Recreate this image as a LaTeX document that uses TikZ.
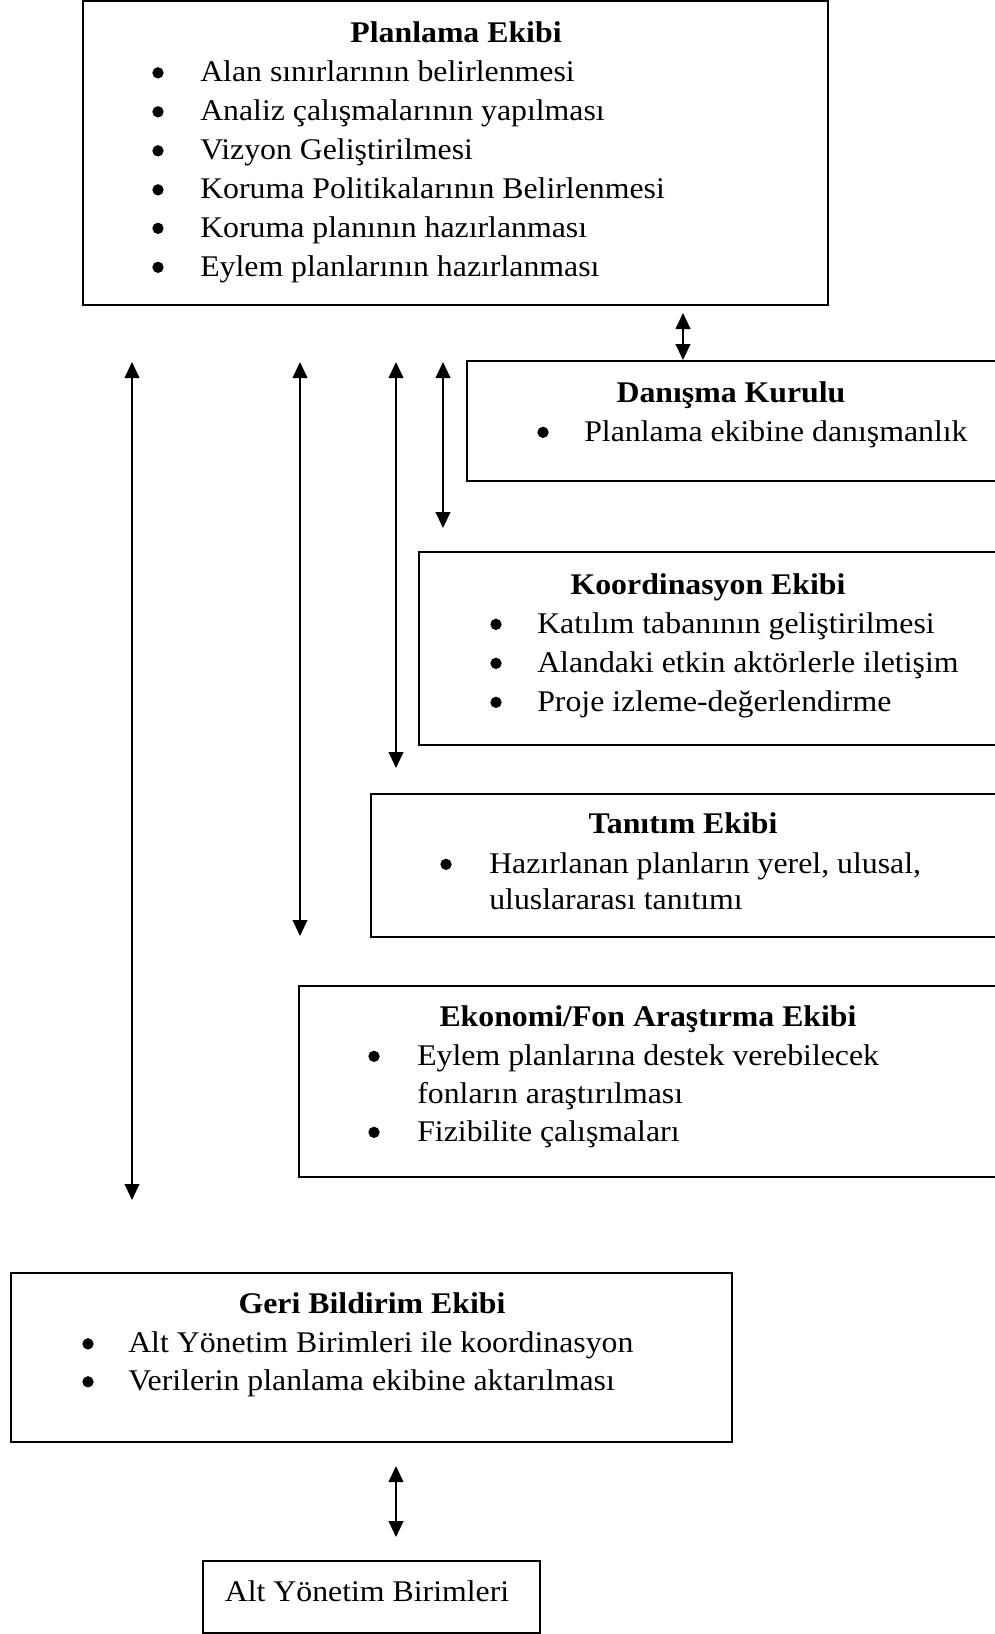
\documentclass[tikz,border=0pt]{standalone}
\usepackage{fontspec}
\setmainfont{Liberation Serif}[FakeStretch=1.06]
\usetikzlibrary{arrows.meta,fit}
\begin{document}
\begin{tikzpicture}[x=0.75pt,y=-0.75pt,
  every node/.style={font=\fontsize{22.5pt}{27pt}\selectfont},
  box/.style={draw,line width=1.5pt,inner sep=0pt},
  head/.style={anchor=base,font=\fontsize{22.5pt}{27pt}\selectfont\bfseries,inner sep=0pt},
  item/.style={anchor=base west,inner sep=0pt},
  dot/.style={circle,fill,inner sep=0pt,minimum size=8.5pt,yshift=6.5pt},
  link/.style={line width=1.5pt,{Triangle[width=11pt,length=12pt]}-{Triangle[width=11pt,length=12pt]}}]
\useasboundingbox (0,0) rectangle (995,1634);
\clip (0,0) rectangle (995,1634);

% team boxes (the right-hand ones run off the page edge)
\node[box,fit={(83,1) (828,305)}] (plan) {};
\node[box,fit={(467,361) (1010,481)}] (danis) {};
\node[box,fit={(419,552) (1010,745)}] (koord) {};
\node[box,fit={(371,794) (1010,937)}] (tanit) {};
\node[box,fit={(299,986) (1010,1177)}] (ekon) {};
\node[box,fit={(11,1273) (732,1442)}] (geri) {};
\node[box,fit={(203,1561) (540,1633)}] (alt) {};

% Planlama Ekibi
\node[head] (planH) at (456,43) {Planlama Ekibi};
\foreach \y/\t [count=\i] in {81.5/Alan sınırlarının belirlenmesi,
    120.5/Analiz çalışmalarının yapılması,
    159.5/Vizyon Geliştirilmesi,
    198.5/Koruma Politikalarının Belirlenmesi,
    237/Koruma planının hazırlanması,
    276/Eylem planlarının hazırlanması}{
  \node[dot] (planB\i) at (158,\y) {};
  \node[item] (planI\i) at (200,\y) {\t};
}

% Danışma Kurulu
\node[head] (danisH) at (731,402) {Danışma Kurulu};
\node[dot] (danisB1) at (543,441) {};
\node[item] (danisI1) at (584,441) {Planlama ekibine danışmanlık};

% Koordinasyon Ekibi
\node[head] (koordH) at (708,594) {Koordinasyon Ekibi};
\foreach \y/\t [count=\i] in {633/Katılım tabanının geliştirilmesi,
    672/Alandaki etkin aktörlerle iletişim,
    711/Proje izleme-değerlendirme}{
  \node[dot] (koordB\i) at (496,\y) {};
  \node[item] (koordI\i) at (537,\y) {\t};
}

% Tanıtım Ekibi
\node[head] (tanitH) at (683,833) {Tanıtım Ekibi};
\node[dot] (tanitB1) at (446,873) {};
\node[item] (tanitI1) at (489,873) {Hazırlanan planların yerel, ulusal,};
\node[item] (tanitI1b) at (489,909) {uluslararası tanıtımı};

% Ekonomi/Fon Araştırma Ekibi
\node[head] (ekonH) at (648,1026) {Ekonomi/Fon Araştırma Ekibi};
\node[dot] (ekonB1) at (374,1065) {};
\node[item] (ekonI1) at (417,1065) {Eylem planlarına destek verebilecek};
\node[item] (ekonI1b) at (417,1103) {fonların araştırılması};
\node[dot] (ekonB2) at (374,1141) {};
\node[item] (ekonI2) at (417,1141) {Fizibilite çalışmaları};

% Geri Bildirim Ekibi
\node[head] (geriH) at (372,1313) {Geri Bildirim Ekibi};
\node[dot] (geriB1) at (88,1352.5) {};
\node[item] (geriI1) at (128,1352.5) {Alt Yönetim Birimleri ile koordinasyon};
\node[dot] (geriB2) at (88,1390.5) {};
\node[item] (geriI2) at (128,1390.5) {Verilerin planlama ekibine aktarılması};

% Alt Yönetim Birimleri
\node[anchor=base,inner sep=0pt] (altT) at (367,1601) {Alt Yönetim Birimleri};

% free ends of the two-way arrows
\coordinate (pdA) at (683,313);
\coordinate (pdB) at (683,360);
\coordinate (gA) at (132,362);
\coordinate (gB) at (132,1200);
\coordinate (eA) at (300,362);
\coordinate (eB) at (300,936);
\coordinate (tA) at (396,362);
\coordinate (tB) at (396,768);
\coordinate (kA) at (443,362);
\coordinate (kB) at (443,528);
\coordinate (aA) at (396,1466);
\coordinate (aB) at (396,1537);

\draw[link] (pdA) -- (pdB);
\draw[link] (gA) -- (gB);
\draw[link] (eA) -- (eB);
\draw[link] (tA) -- (tB);
\draw[link] (kA) -- (kB);
\draw[link] (aA) -- (aB);
\end{tikzpicture}
\end{document}
